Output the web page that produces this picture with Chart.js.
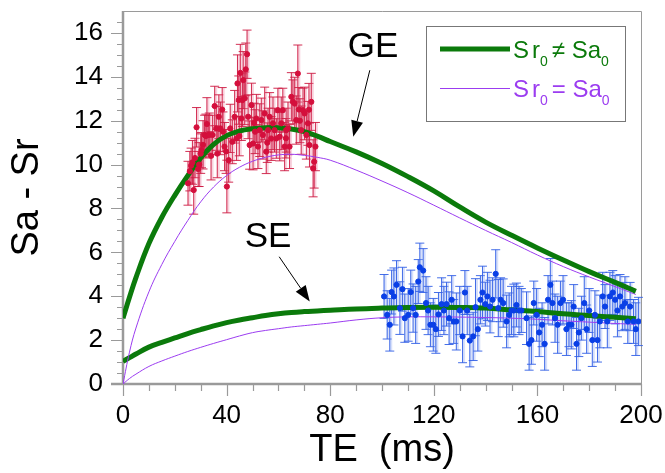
<!DOCTYPE html>
<html lang="en">
<head>
  <meta charset="UTF-8">
  <title>Sa - Sr vs TE</title>
  <script src="https://cdn.jsdelivr.net/npm/chart.js"></script>
  <style>
    body { margin: 0; background: #fff; }
    #wrap { width: 665px; height: 473px; }
  </style>
</head>
<body>
  <div id="wrap"><canvas id="chart" width="665" height="473"></canvas></div>

  <script>
    // Fitted curves, sampled along TE (ms)
    var fitTE   = [0, 2.5, 5, 10, 15, 20, 25, 30, 35, 40, 45, 50, 55, 60, 65, 70, 75, 80, 90, 100, 110, 120, 130, 140, 150, 160, 170, 180, 190, 198];
    var geFree  = [3.0, 3.95, 4.85, 6.4, 7.6, 8.6, 9.5, 10.3, 10.92, 11.32, 11.53, 11.63, 11.68, 11.68, 11.62, 11.5, 11.3, 11.05, 10.58, 10.05, 9.45, 8.8, 8.07, 7.38, 6.78, 6.2, 5.65, 5.12, 4.63, 4.22];
    var geEqual = [0, 1.45, 2.55, 4.2, 5.45, 6.5, 7.45, 8.3, 8.98, 9.5, 9.88, 10.15, 10.33, 10.44, 10.47, 10.42, 10.33, 10.2, 9.75, 9.25, 8.72, 8.15, 7.57, 7.0, 6.45, 5.88, 5.35, 4.88, 4.44, 4.08];
    var seFree  = [1.03, 1.2, 1.37, 1.68, 1.9, 2.1, 2.3, 2.48, 2.65, 2.8, 2.92, 3.02, 3.12, 3.2, 3.26, 3.3, 3.33, 3.36, 3.42, 3.46, 3.49, 3.5, 3.49, 3.46, 3.38, 3.3, 3.2, 3.12, 3.04, 2.97];
    var seEqual = [0, 0.25, 0.45, 0.8, 1.05, 1.27, 1.48, 1.67, 1.85, 2.02, 2.19, 2.34, 2.44, 2.52, 2.6, 2.66, 2.72, 2.78, 2.92, 3.02, 3.06, 3.06, 3.05, 3.03, 3.0, 2.95, 2.88, 2.82, 2.76, 2.72];

    // Gradient echo measurements
    var geTE = [25.1, 25.8, 26.3, 26.8, 27.3, 27.8, 28.4, 29.0, 29.4, 30.0, 30.3, 30.9, 31.5, 32.0, 32.4, 32.9, 33.3, 34.0, 34.6, 35.4,
                36.0, 36.4, 37.0, 37.6, 38.3, 38.6, 39.2, 39.8, 40.1, 40.8, 41.4, 42.2, 43.1, 43.8, 44.2, 44.7, 44.9, 45.3, 45.7, 46.1,
                46.4, 47.0, 47.4, 47.9, 48.3, 48.9, 49.6, 50.2, 50.6, 51.0, 51.5, 52.1, 52.8, 53.4, 54.0, 54.7, 55.3, 55.7, 56.0, 56.6,
                57.2, 57.9, 58.5, 59.2, 59.8, 60.5, 61.1, 61.7, 62.4, 62.9, 63.0, 63.7, 64.3, 65.0, 65.6, 66.3, 66.9, 67.5, 67.9, 68.3,
                68.8, 69.5, 70.1, 70.8, 71.4, 71.8, 72.0, 72.7, 73.4, 73.8, 74.3];
    var geSignal = [9.15, 9.7, 9.95, 10.1, 8.84, 10.3, 11.7, 9.8, 10.0, 10.5, 10.66, 10.9, 11.35, 11.3, 11.85, 11.35, 11.35, 10.4, 11.35, 12.67,
                11.65, 10.5, 12.18, 11.65, 12.51, 11.5, 10.82, 10.6, 9.0, 10.2, 11.65, 11.04, 12.18, 11.19, 13.7, 12.94, 11.3, 14.18, 12.1, 12.94,
                13.85, 13.02, 14.34, 15.03, 12.18, 10.89, 12.71, 10.96, 11.9, 11.5, 12.1, 10.82, 11.57, 12.03, 11.35, 12.33, 10.59, 11.0, 11.57, 12.18,
                11.19, 11.88, 11.57, 11.19, 12.48, 11.27, 11.88, 12.48, 10.82, 11.2, 11.57, 11.65, 10.82, 13.09, 12.86, 12.78, 12.03, 14.15, 12.51, 12.0,
                11.57, 12.48, 12.33, 11.35, 11.88, 12.5, 10.89, 12.86, 9.83, 10.13, 10.82];
    var geErr = [1.0, 0.9, 0.8, 1.0, 1.1, 0.9, 0.9, 0.8, 1.0, 0.9, 0.8, 1.1, 0.9, 1.0, 1.2, 0.9, 1.0, 1.1, 0.9, 0.9,
                1.0, 1.1, 1.0, 1.2, 1.0, 0.9, 1.1, 1.0, 1.2, 1.0, 1.1, 1.0, 1.2, 1.0, 1.3, 1.1, 0.9, 1.3, 1.0, 1.2,
                1.3, 1.2, 1.2, 1.1, 1.0, 1.1, 1.0, 1.2, 0.9, 1.0, 1.1, 1.0, 1.2, 1.0, 1.1, 1.2, 1.0, 0.9, 1.0, 1.1,
                1.0, 1.2, 1.0, 0.9, 1.0, 1.1, 1.2, 1.0, 1.1, 0.9, 1.0, 1.2, 1.0, 1.1, 1.0, 1.2, 1.1, 1.3, 1.0, 1.0,
                1.1, 1.0, 1.2, 1.1, 1.0, 1.2, 1.0, 1.3, 1.3, 1.2, 1.1];

    // Spin echo measurements
    var seTE = [100.8, 102.0, 103.0, 103.7, 104.6, 105.6, 106.9, 107.9, 108.8, 110.1, 111.1, 112.0, 113.0, 114.0, 114.6, 115.9, 117.0, 117.8, 118.7, 119.8,
                120.8, 121.8, 123.0, 123.9, 124.9, 125.9, 126.9, 127.7, 128.7, 130.0, 131.1, 132.0, 132.9, 133.9, 135.2, 136.1, 137.0, 138.0, 138.8, 139.9,
                140.7, 141.7, 142.7, 143.9, 144.9, 145.8, 146.8, 148.1, 149.1, 150.0, 150.9, 151.9, 152.9, 153.8, 155.8, 156.8, 157.7, 158.6, 159.7, 160.7,
                161.8, 162.8, 164.1, 165.0, 165.8, 166.8, 167.8, 168.9, 169.9, 171.2, 172.2, 173.1, 174.0, 175.1, 176.0, 177.0, 178.1, 179.0, 180.0, 181.2,
                182.2, 183.2, 184.1, 185.2, 186.1, 187.0, 188.0, 189.1, 190.0, 190.9, 191.9, 192.8, 193.8, 194.9, 195.8, 197.1, 198.0, 199.0];
    var seSignal = [3.99, 3.15, 2.7, 4.19, 3.99, 4.52, 3.46, 4.32, 3.0, 3.15, 4.19, 3.46, 3.15, 4.67, 5.32, 5.17, 3.69, 3.35, 2.7, 2.7,
                2.5, 3.17, 3.64, 3.35, 3.64, 3.0, 3.84, 2.85, 2.85, 3.35, 2.17, 4.17, 3.35, 1.98, 2.17, 3.5, 2.5, 3.84, 4.17, 3.64,
                3.99, 3.53, 3.84, 5.02, 3.46, 3.84, 3.69, 2.85, 3.15, 3.35, 3.35, 3.6, 3.35, 3.35, 3.0, 1.83, 2.0, 3.69, 3.15, 2.35,
                2.7, 1.83, 3.84, 4.52, 3.69, 3.0, 2.7, 3.69, 3.84, 2.5, 2.7, 2.7, 3.53, 1.83, 2.35, 3.0, 3.69, 2.5, 3.35, 2.0,
                3.15, 2.0, 2.85, 3.99, 3.53, 2.85, 3.99, 4.17, 3.84, 3.35, 3.99, 3.53, 3.69, 2.85, 3.53, 2.85, 2.5, 2.85];
    var seErr = [1.0, 1.1, 1.2, 1.0, 1.3, 1.1, 1.2, 1.0, 1.1, 1.2, 1.0, 1.1, 1.3, 1.0, 1.1, 1.0, 1.2, 1.1, 1.0, 1.2,
                1.1, 1.0, 1.2, 1.1, 1.0, 1.2, 1.1, 1.0, 1.3, 1.1, 1.2, 1.0, 1.1, 1.2, 1.1, 1.3, 1.0, 1.1, 1.2, 1.0,
                1.1, 1.2, 1.0, 1.1, 1.3, 1.0, 1.1, 1.2, 1.0, 1.1, 1.2, 1.0, 1.1, 1.0, 1.2, 1.2, 1.1, 1.0, 1.2, 1.1,
                1.0, 1.2, 1.1, 1.2, 1.0, 1.1, 1.3, 1.0, 1.1, 1.2, 1.0, 1.1, 1.0, 1.2, 1.1, 1.0, 1.2, 1.1, 1.0, 1.2,
                1.1, 1.0, 1.2, 1.1, 1.0, 1.2, 1.1, 1.0, 1.1, 1.2, 1.0, 1.1, 1.2, 1.0, 1.1, 1.0, 1.2, 1.1];

    // Axis tick values
    var yTicks = [0, 2, 4, 6, 8, 10, 12, 14, 16];
    var xTicks = [0, 40, 80, 120, 160, 200];

    // Arrow labels: text anchor, arrow tail and arrow tip, in data units
    var noteText = ['GE', 'SE'];
    var noteAt   = [[86.8, 14.9], [47.0, 6.25]];
    var noteTail = [[95.3, 14.3], [60.3, 5.8]];
    var noteTip  = [[88.9, 11.27], [72.1, 3.76]];

    var FONT = "'Liberation Sans', Arial, sans-serif";
    var GREEN = '#0b7a0b';
    var PURPLE = '#9b3cf0';
    var AXIS = '#9a9a9a';

    function pts(xs, ys) {
      return xs.map(function (x, i) { return { x: x, y: ys[i] }; });
    }

    function drawErrorBars(chart, index, errs, stroke, halo) {
      var ctx = chart.ctx;
      var ys = chart.scales.y;
      var ds = chart.data.datasets[index];
      chart.getDatasetMeta(index).data.forEach(function (pt, i) {
        var v = ds.data[i].y;
        var top = ys.getPixelForValue(v + errs[i]);
        var bot = ys.getPixelForValue(v - errs[i]);
        ctx.strokeStyle = halo;
        ctx.lineWidth = 3;
        ctx.beginPath();
        ctx.moveTo(pt.x + 1, top); ctx.lineTo(pt.x + 1, bot);
        ctx.stroke();
        ctx.strokeStyle = stroke;
        ctx.lineWidth = 1;
        ctx.beginPath();
        ctx.moveTo(pt.x, top); ctx.lineTo(pt.x, bot);
        ctx.moveTo(pt.x - 4.5, top); ctx.lineTo(pt.x + 4.5, top);
        ctx.moveTo(pt.x - 4.5, bot); ctx.lineTo(pt.x + 4.5, bot);
        ctx.stroke();
      });
    }

    function drawArrow(ctx, x1, y1, x2, y2) {
      var a = Math.atan2(y2 - y1, x2 - x1);
      var len = 16, half = 6;
      ctx.strokeStyle = '#000';
      ctx.lineWidth = 1;
      ctx.beginPath();
      ctx.moveTo(x1, y1);
      ctx.lineTo(x2 - Math.cos(a) * len, y2 - Math.sin(a) * len);
      ctx.stroke();
      ctx.fillStyle = '#000';
      ctx.beginPath();
      ctx.moveTo(x2, y2);
      ctx.lineTo(x2 - Math.cos(a) * len - Math.sin(a) * half, y2 - Math.sin(a) * len + Math.cos(a) * half);
      ctx.lineTo(x2 - Math.cos(a) * len + Math.sin(a) * half, y2 - Math.sin(a) * len - Math.cos(a) * half);
      ctx.closePath();
      ctx.fill();
    }

    // "Sr0 ≠ Sa0" style label with subscript zeros
    function drawSubLabel(ctx, x, base, sign, color) {
      var big = '24px ' + FONT, small = '14px ' + FONT;
      ctx.fillStyle = color;
      ctx.textBaseline = 'alphabetic';
      ctx.textAlign = 'left';
      ctx.font = big;
      ctx.fillText('S', x, base); x += ctx.measureText('S').width + 3;
      ctx.fillText('r', x, base); x += ctx.measureText('r').width;
      ctx.font = small;
      ctx.fillText('0', x, base + 8); x += ctx.measureText('0').width + 4;
      ctx.font = big;
      var mid = sign + ' Sa';
      ctx.fillText(mid, x, base); x += ctx.measureText(mid).width;
      ctx.font = small;
      ctx.fillText('0', x, base + 8);
    }

    var decorations = {
      id: 'decorations',
      beforeDatasetsDraw: function (chart) {
        var ctx = chart.ctx;
        var a = chart.chartArea;
        var xs = chart.scales.x, ys = chart.scales.y;
        ctx.save();

        // frame
        ctx.strokeStyle = AXIS;
        ctx.lineWidth = 1;
        ctx.beginPath();
        ctx.moveTo(a.left, a.top + 0.5); ctx.lineTo(a.right + 0.5, a.top + 0.5);
        ctx.lineTo(a.right + 0.5, a.bottom);
        ctx.stroke();

        // minor and major ticks
        ctx.lineWidth = 1.2;
        ctx.beginPath();
        for (var v = 0; v <= 16.5; v += 0.5) {
          var py = Math.round(ys.getPixelForValue(v)) + 0.5;
          var major = v % 2 === 0;
          ctx.moveTo(a.left - (major ? 12 : 6), py); ctx.lineTo(a.left, py);
        }
        for (var t = 0; t <= 200; t += 10) {
          var px = Math.round(xs.getPixelForValue(t)) + 0.5;
          var majorX = t % 40 === 0;
          ctx.moveTo(px, a.bottom); ctx.lineTo(px, a.bottom + (majorX ? 12 : 7));
        }
        ctx.stroke();

        // axis lines
        ctx.lineWidth = 2.5;
        ctx.beginPath();
        ctx.moveTo(a.left, a.top); ctx.lineTo(a.left, a.bottom);
        ctx.moveTo(a.left - 12, a.bottom); ctx.lineTo(a.right + 1, a.bottom);
        ctx.stroke();

        drawErrorBars(chart, 0, geErr, 'rgba(205,25,65,0.9)', 'rgba(235,130,160,0.35)');
        drawErrorBars(chart, 1, seErr, 'rgba(50,95,230,0.9)', 'rgba(140,165,240,0.35)');
        ctx.restore();
      },
      afterDraw: function (chart) {
        var ctx = chart.ctx;
        var xs = chart.scales.x, ys = chart.scales.y;
        ctx.save();

        // arrow labels
        ctx.font = '35px ' + FONT;
        ctx.fillStyle = '#000';
        ctx.textAlign = 'left';
        ctx.textBaseline = 'alphabetic';
        noteText.forEach(function (txt, i) {
          ctx.fillText(txt, xs.getPixelForValue(noteAt[i][0]), ys.getPixelForValue(noteAt[i][1]));
          drawArrow(ctx,
            xs.getPixelForValue(noteTail[i][0]), ys.getPixelForValue(noteTail[i][1]),
            xs.getPixelForValue(noteTip[i][0]), ys.getPixelForValue(noteTip[i][1]));
        });

        // legend box
        var lx = 426.5, ly = 26.5, lw = 199, lh = 95;
        ctx.strokeStyle = '#777';
        ctx.lineWidth = 1;
        ctx.strokeRect(lx, ly, lw, lh);
        ctx.strokeStyle = GREEN;
        ctx.lineWidth = 5;
        ctx.beginPath(); ctx.moveTo(440, 49); ctx.lineTo(510, 49); ctx.stroke();
        ctx.strokeStyle = PURPLE;
        ctx.lineWidth = 1;
        ctx.beginPath(); ctx.moveTo(440, 88.5); ctx.lineTo(510, 88.5); ctx.stroke();
        drawSubLabel(ctx, 513, 58, '\u2260', GREEN);
        drawSubLabel(ctx, 513, 97, '=', PURPLE);
        ctx.restore();
      }
    };

    function curve(label, ys, color, width) {
      return {
        label: label,
        data: pts(fitTE, ys),
        showLine: true,
        borderColor: color,
        borderWidth: width,
        pointRadius: 0,
        tension: 0.4,
        order: 1
      };
    }

    var ctx = document.getElementById('chart').getContext('2d');
    var chart = new Chart(ctx, {
      type: 'scatter',
      data: {
        datasets: [
          { label: 'GE', data: pts(geTE, geSignal), backgroundColor: '#d40f3c', borderColor: '#d40f3c', pointRadius: 2.6, order: 0 },
          { label: 'SE', data: pts(seTE, seSignal), backgroundColor: '#0a3fe6', borderColor: '#0a3fe6', pointRadius: 2.6, order: 0 },
          curve('Sr0 \u2260 Sa0 (GE)', geFree, GREEN, 5),
          curve('Sr0 = Sa0 (GE)', geEqual, PURPLE, 1),
          curve('Sr0 \u2260 Sa0 (SE)', seFree, GREEN, 5),
          curve('Sr0 = Sa0 (SE)', seEqual, PURPLE, 1)
        ]
      },
      options: {
        responsive: false,
        animation: false,
        layout: { padding: { left: 0, right: 24, top: 11, bottom: 0 } },
        plugins: { legend: { display: false }, tooltip: { enabled: false } },
        scales: {
          x: {
            type: 'linear', min: 0, max: 200,
            grid: { display: false, drawTicks: false },
            border: { display: false },
            ticks: { padding: 16, color: '#000', maxRotation: 0, font: { family: FONT, size: 26 } },
            afterBuildTicks: function (s) { s.ticks = xTicks.map(function (v) { return { value: v }; }); },
            title: { display: true, text: 'TE  (ms)', color: '#000', font: { family: FONT, size: 38 }, padding: 0 },
            afterFit: function (s) { s.height = 89; s.paddingLeft = 0; s.paddingRight = 0; }
          },
          y: {
            min: 0, max: 17,
            grid: { display: false, drawTicks: false },
            border: { display: false },
            ticks: { padding: 20, color: '#000', font: { family: FONT, size: 26 } },
            afterBuildTicks: function (s) { s.ticks = yTicks.map(function (v) { return { value: v }; }); },
            title: { display: true, text: 'Sa - Sr', color: '#000', font: { family: FONT, size: 38 }, padding: { top: 5 } },
            afterFit: function (s) { s.width = 123; s.paddingTop = 0; s.paddingBottom = 0; }
          }
        }
      },
      plugins: [decorations]
    });
  </script>
</body>
</html>
